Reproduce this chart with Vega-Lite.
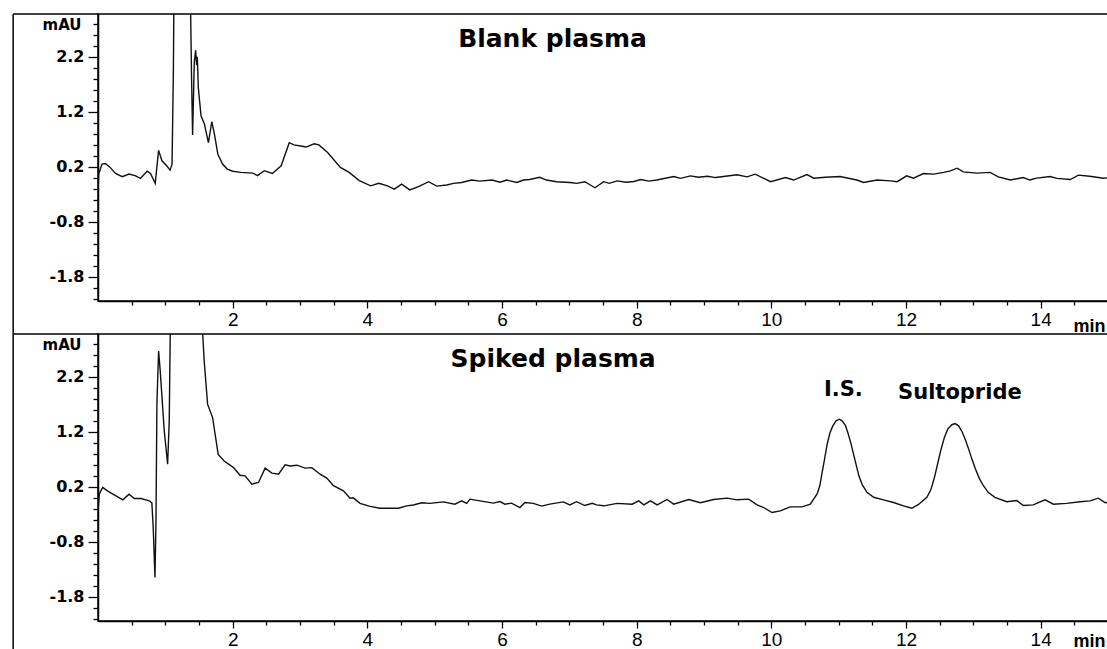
{
  "$schema": "https://vega.github.io/schema/vega-lite/v6.json",
  "padding": {"left": 11, "top": 12, "right": 0, "bottom": 0},
  "autosize": {"type": "pad"},
  "background": "white",
  "spacing": 33,
  "bounds": "flush",
  "config": {
    "view": {"stroke": "black", "strokeWidth": 1.5},
    "axis": {"grid": false, "domainColor": "black", "domainWidth": 1.5, "tickColor": "black", "tickWidth": 1.3, "labelColor": "black", "titleColor": "black", "labelOverlap": false, "labelFlush": false, "labelBound": false, "tickCount": 200}
  },
  "datasets": {
    "blank": [
      {"t":0,"v":-0.3},{"t":0.01,"v":0.07},{"t":0.06,"v":0.25},{"t":0.11,"v":0.26},{"t":0.18,"v":0.19},{"t":0.26,"v":0.08},{"t":0.36,"v":0.02},{"t":0.46,"v":0.07},{"t":0.55,"v":0.04},{"t":0.63,"v":-0.01},{"t":0.73,"v":0.12},{"t":0.78,"v":0.08},{"t":0.85,"v":-0.1},{"t":0.9,"v":0.5},{"t":0.95,"v":0.31},{"t":1.02,"v":0.22},{"t":1.07,"v":0.14},{"t":1.1,"v":0.25},{"t":1.12,"v":2.0},{"t":1.135,"v":4.5},{"t":1.355,"v":4.5},{"t":1.37,"v":3.5},{"t":1.39,"v":1.8},{"t":1.405,"v":0.78},{"t":1.43,"v":2.1},{"t":1.45,"v":2.32},{"t":1.465,"v":2.05},{"t":1.475,"v":2.2},{"t":1.49,"v":1.64},{"t":1.53,"v":1.13},{"t":1.58,"v":0.98},{"t":1.64,"v":0.64},{"t":1.69,"v":1.02},{"t":1.73,"v":0.79},{"t":1.78,"v":0.43},{"t":1.85,"v":0.25},{"t":1.92,"v":0.16},{"t":2.0,"v":0.12},{"t":2.12,"v":0.1},{"t":2.3,"v":0.085},{"t":2.37,"v":0.04},{"t":2.47,"v":0.13},{"t":2.59,"v":0.08},{"t":2.72,"v":0.22},{"t":2.84,"v":0.64},{"t":2.91,"v":0.6},{"t":3.01,"v":0.58},{"t":3.09,"v":0.56},{"t":3.21,"v":0.62},{"t":3.28,"v":0.6},{"t":3.41,"v":0.46},{"t":3.6,"v":0.19},{"t":3.73,"v":0.1},{"t":3.88,"v":-0.05},{"t":4.05,"v":-0.145},{"t":4.17,"v":-0.1},{"t":4.3,"v":-0.145},{"t":4.4,"v":-0.205},{"t":4.51,"v":-0.115},{"t":4.63,"v":-0.22},{"t":4.76,"v":-0.16},{"t":4.91,"v":-0.07},{"t":5.03,"v":-0.15},{"t":5.18,"v":-0.13},{"t":5.28,"v":-0.1},{"t":5.4,"v":-0.085},{"t":5.55,"v":-0.04},{"t":5.67,"v":-0.06},{"t":5.85,"v":-0.04},{"t":5.97,"v":-0.08},{"t":6.07,"v":-0.04},{"t":6.22,"v":-0.085},{"t":6.32,"v":-0.04},{"t":6.41,"v":-0.03},{"t":6.56,"v":0.01},{"t":6.66,"v":-0.04},{"t":6.81,"v":-0.07},{"t":7.01,"v":-0.085},{"t":7.11,"v":-0.1},{"t":7.23,"v":-0.07},{"t":7.38,"v":-0.18},{"t":7.51,"v":-0.07},{"t":7.59,"v":-0.1},{"t":7.71,"v":-0.055},{"t":7.84,"v":-0.08},{"t":7.96,"v":-0.067},{"t":8.06,"v":-0.03},{"t":8.18,"v":-0.06},{"t":8.3,"v":-0.04},{"t":8.55,"v":0.024},{"t":8.65,"v":-0.01},{"t":8.8,"v":0.036},{"t":8.92,"v":0.01},{"t":9.05,"v":0.03},{"t":9.17,"v":0.005},{"t":9.29,"v":0.024},{"t":9.49,"v":0.055},{"t":9.64,"v":0.018},{"t":9.76,"v":0.067},{"t":9.99,"v":-0.07},{"t":10.21,"v":0.006},{"t":10.33,"v":-0.04},{"t":10.53,"v":0.06},{"t":10.63,"v":-0.006},{"t":10.8,"v":0.01},{"t":11.02,"v":0.024},{"t":11.27,"v":-0.04},{"t":11.37,"v":-0.085},{"t":11.57,"v":-0.04},{"t":11.77,"v":-0.055},{"t":11.87,"v":-0.07},{"t":12.01,"v":0.036},{"t":12.11,"v":-0.006},{"t":12.26,"v":0.079},{"t":12.41,"v":0.067},{"t":12.56,"v":0.1},{"t":12.66,"v":0.127},{"t":12.76,"v":0.176},{"t":12.85,"v":0.109},{"t":13.05,"v":0.085},{"t":13.25,"v":0.1},{"t":13.37,"v":0.018},{"t":13.55,"v":-0.04},{"t":13.74,"v":0.006},{"t":13.84,"v":-0.04},{"t":13.94,"v":-0.006},{"t":14.14,"v":0.024},{"t":14.24,"v":-0.01},{"t":14.44,"v":-0.03},{"t":14.56,"v":0.05},{"t":14.73,"v":0.03},{"t":14.93,"v":-0.006},{"t":15,"v":0.0}
    ],
    "spiked": [
      {"t":0,"v":-0.24},{"t":0.02,"v":0.07},{"t":0.07,"v":0.19},{"t":0.14,"v":0.127},{"t":0.24,"v":0.055},{"t":0.37,"v":-0.036},{"t":0.46,"v":0.067},{"t":0.54,"v":-0.012},{"t":0.64,"v":-0.012},{"t":0.76,"v":-0.055},{"t":0.8,"v":-0.09},{"t":0.82,"v":-0.54},{"t":0.846,"v":-1.45},{"t":0.861,"v":-0.42},{"t":0.875,"v":1.71},{"t":0.9,"v":2.67},{"t":0.924,"v":2.31},{"t":0.984,"v":1.22},{"t":1.034,"v":0.61},{"t":1.058,"v":1.4},{"t":1.073,"v":3.0},{"t":1.085,"v":4.5},{"t":1.52,"v":4.5},{"t":1.545,"v":3.2},{"t":1.577,"v":2.49},{"t":1.628,"v":1.7},{"t":1.702,"v":1.46},{"t":1.785,"v":0.79},{"t":1.874,"v":0.67},{"t":2.013,"v":0.55},{"t":2.11,"v":0.41},{"t":2.185,"v":0.4},{"t":2.285,"v":0.25},{"t":2.384,"v":0.28},{"t":2.482,"v":0.54},{"t":2.582,"v":0.45},{"t":2.681,"v":0.43},{"t":2.779,"v":0.6},{"t":2.853,"v":0.58},{"t":2.953,"v":0.594},{"t":3.076,"v":0.54},{"t":3.175,"v":0.55},{"t":3.298,"v":0.43},{"t":3.398,"v":0.36},{"t":3.497,"v":0.22},{"t":3.645,"v":0.127},{"t":3.743,"v":-0.006},{"t":3.79,"v":0.0},{"t":3.892,"v":-0.1},{"t":4.04,"v":-0.155},{"t":4.188,"v":-0.19},{"t":4.337,"v":-0.19},{"t":4.461,"v":-0.19},{"t":4.585,"v":-0.145},{"t":4.684,"v":-0.13},{"t":4.807,"v":-0.09},{"t":4.93,"v":-0.1},{"t":5.129,"v":-0.073},{"t":5.3,"v":-0.115},{"t":5.4,"v":-0.055},{"t":5.475,"v":-0.1},{"t":5.524,"v":-0.024},{"t":5.672,"v":-0.055},{"t":5.871,"v":-0.096},{"t":5.97,"v":-0.067},{"t":6.043,"v":-0.115},{"t":6.142,"v":-0.096},{"t":6.266,"v":-0.176},{"t":6.34,"v":-0.085},{"t":6.465,"v":-0.1},{"t":6.588,"v":-0.15},{"t":6.71,"v":-0.115},{"t":6.91,"v":-0.073},{"t":7.008,"v":-0.13},{"t":7.107,"v":-0.07},{"t":7.23,"v":-0.14},{"t":7.34,"v":-0.1},{"t":7.404,"v":-0.127},{"t":7.512,"v":-0.145},{"t":7.71,"v":-0.1},{"t":7.933,"v":-0.115},{"t":8.031,"v":-0.055},{"t":8.106,"v":-0.127},{"t":8.205,"v":-0.055},{"t":8.304,"v":-0.127},{"t":8.452,"v":-0.03},{"t":8.55,"v":-0.115},{"t":8.773,"v":-0.03},{"t":8.947,"v":-0.09},{"t":9.144,"v":-0.03},{"t":9.343,"v":-0.006},{"t":9.49,"v":-0.036},{"t":9.663,"v":-0.024},{"t":9.788,"v":-0.127},{"t":9.886,"v":-0.176},{"t":10.01,"v":-0.267},{"t":10.134,"v":-0.236},{"t":10.28,"v":-0.164},{"t":10.455,"v":-0.164},{"t":10.579,"v":-0.115},{"t":10.68,"v":0.07},{"t":10.72,"v":0.22},{"t":10.75,"v":0.43},{"t":10.79,"v":0.7},{"t":10.83,"v":0.98},{"t":10.87,"v":1.18},{"t":10.91,"v":1.3},{"t":10.96,"v":1.4},{"t":11.01,"v":1.43},{"t":11.05,"v":1.4},{"t":11.1,"v":1.32},{"t":11.14,"v":1.17},{"t":11.18,"v":1.0},{"t":11.22,"v":0.8},{"t":11.26,"v":0.6},{"t":11.3,"v":0.4},{"t":11.35,"v":0.24},{"t":11.42,"v":0.1},{"t":11.52,"v":0.01},{"t":11.666,"v":-0.036},{"t":11.815,"v":-0.085},{"t":11.963,"v":-0.145},{"t":12.087,"v":-0.19},{"t":12.186,"v":-0.12},{"t":12.31,"v":0.01},{"t":12.37,"v":0.15},{"t":12.42,"v":0.36},{"t":12.47,"v":0.62},{"t":12.52,"v":0.88},{"t":12.57,"v":1.1},{"t":12.62,"v":1.25},{"t":12.68,"v":1.33},{"t":12.73,"v":1.35},{"t":12.78,"v":1.31},{"t":12.83,"v":1.21},{"t":12.88,"v":1.06},{"t":12.93,"v":0.89},{"t":12.98,"v":0.7},{"t":13.03,"v":0.53},{"t":13.09,"v":0.35},{"t":13.15,"v":0.22},{"t":13.22,"v":0.1},{"t":13.32,"v":0.01},{"t":13.497,"v":-0.07},{"t":13.645,"v":-0.05},{"t":13.743,"v":-0.14},{"t":13.89,"v":-0.127},{"t":14.065,"v":-0.036},{"t":14.19,"v":-0.115},{"t":14.386,"v":-0.1},{"t":14.585,"v":-0.07},{"t":14.733,"v":-0.055},{"t":14.856,"v":-0.006},{"t":14.955,"v":-0.085},{"t":15,"v":-0.09}
    ]
  },
  "vconcat": [
    {
      "width": 1010,
      "height": 287,
      "layer": [
        {
          "data": {"name": "blank"},
          "mark": {"type": "line", "clip": true, "color": "#111111", "strokeWidth": 1.4},
          "encoding": {
            "x": {"field": "t", "type": "quantitative", "scale": {"domain": [0, 15], "nice": false, "zero": false},
              "axis": {"title": "min", "tickCount": 200, "values": [0.5,1,1.5,2,2.5,3,3.5,4,4.5,5,5.5,6,6.5,7,7.5,8,8.5,9,9.5,10,10.5,11,11.5,12,12.5,13,13.5,14,14.5],
                "labelExpr": "datum.value % 2 === 0 ? format(datum.value, 'd') : ''",
                "tickSize": {"condition": {"test": "datum.value % 2 === 0", "value": 7}, "value": 4},
                "labelPadding": 2, "labelFont": "Liberation Sans", "labelFontSize": 19, "labelFontWeight": "normal",
                "titleX": 975, "titleY": 30, "titleAlign": "left", "titleBaseline": "alphabetic", "titleFont": "Liberation Sans", "titleFontWeight": "bold", "titleFontSize": 18}},
            "y": {"field": "v", "type": "quantitative", "scale": {"domain": [-2.24, 2.98], "nice": false, "zero": false},
              "axis": {"title": "mAU", "tickCount": 200, "values": [-2.2,-2,-1.8,-1.6,-1.4,-1.2,-1,-0.8,-0.6,-0.4,-0.2,0,0.2,0.4,0.6,0.8,1,1.2,1.4,1.6,1.8,2,2.2,2.4,2.6,2.8],
                "labelExpr": "abs(datum.value + 0.8 - round(datum.value + 0.8)) < 0.01 ? (datum.value < 0 ? '-' : '') + format(abs(datum.value), '.1f') : ''",
                "tickSize": {"condition": {"test": "abs(datum.value + 0.8 - round(datum.value + 0.8)) < 0.01", "value": 10}, "value": 5},
                "labelPadding": 4, "labelFont": "DejaVu Sans", "labelFontSize": 16, "labelFontWeight": "bold",
                "titleAngle": 0, "titleX": -17, "titleY": 10, "titleAlign": "right", "titleBaseline": "middle", "titleFont": "DejaVu Sans", "titleFontWeight": "bold", "titleFontSize": 15}}
          }
        },
        {
          "data": {"values": [{"label": "Blank plasma", "t": 6.75, "v": 2.53}]},
          "mark": {"type": "text", "font": "DejaVu Sans", "fontWeight": "bold", "fontSize": 25, "color": "black", "align": "center", "baseline": "middle"},
          "encoding": {"x": {"field": "t", "type": "quantitative"}, "y": {"field": "v", "type": "quantitative"}, "text": {"field": "label"}}
        },
        {
          "data": {"values": [{}]},
          "mark": {"type": "rule", "color": "black", "strokeWidth": 1.5},
          "encoding": {"x": {"datum": -1.26}, "y": {"datum": 2.98}, "y2": {"datum": -2.84}}
        },
        {
          "data": {"values": [{}]},
          "mark": {"type": "rule", "color": "black", "strokeWidth": 1.5},
          "encoding": {"x": {"datum": -1.26}, "x2": {"datum": 0}, "y": {"datum": 2.98}}
        }
      ]
    },
    {
      "width": 1010,
      "height": 287,
      "layer": [
        {
          "data": {"name": "spiked"},
          "mark": {"type": "line", "clip": true, "color": "#111111", "strokeWidth": 1.4},
          "encoding": {
            "x": {"field": "t", "type": "quantitative", "scale": {"domain": [0, 15], "nice": false, "zero": false},
              "axis": {"title": "min", "tickCount": 200, "values": [0.5,1,1.5,2,2.5,3,3.5,4,4.5,5,5.5,6,6.5,7,7.5,8,8.5,9,9.5,10,10.5,11,11.5,12,12.5,13,13.5,14,14.5],
                "labelExpr": "datum.value % 2 === 0 ? format(datum.value, 'd') : ''",
                "tickSize": {"condition": {"test": "datum.value % 2 === 0", "value": 7}, "value": 4},
                "labelPadding": 2, "labelFont": "Liberation Sans", "labelFontSize": 19, "labelFontWeight": "normal",
                "titleX": 975, "titleY": 25, "titleAlign": "left", "titleBaseline": "alphabetic", "titleFont": "Liberation Sans", "titleFontWeight": "bold", "titleFontSize": 18}},
            "y": {"field": "v", "type": "quantitative", "scale": {"domain": [-2.24, 2.98], "nice": false, "zero": false},
              "axis": {"title": "mAU", "tickCount": 200, "values": [-2.2,-2,-1.8,-1.6,-1.4,-1.2,-1,-0.8,-0.6,-0.4,-0.2,0,0.2,0.4,0.6,0.8,1,1.2,1.4,1.6,1.8,2,2.2,2.4,2.6,2.8],
                "labelExpr": "abs(datum.value + 0.8 - round(datum.value + 0.8)) < 0.01 ? (datum.value < 0 ? '-' : '') + format(abs(datum.value), '.1f') : ''",
                "tickSize": {"condition": {"test": "abs(datum.value + 0.8 - round(datum.value + 0.8)) < 0.01", "value": 10}, "value": 5},
                "labelPadding": 4, "labelFont": "DejaVu Sans", "labelFontSize": 16, "labelFontWeight": "bold",
                "titleAngle": 0, "titleX": -17, "titleY": 10, "titleAlign": "right", "titleBaseline": "middle", "titleFont": "DejaVu Sans", "titleFontWeight": "bold", "titleFontSize": 15}}
          }
        },
        {
          "data": {"values": [{"label": "Spiked plasma", "t": 6.76, "v": 2.52}]},
          "mark": {"type": "text", "font": "DejaVu Sans", "fontWeight": "bold", "fontSize": 25, "color": "black", "align": "center", "baseline": "middle"},
          "encoding": {"x": {"field": "t", "type": "quantitative"}, "y": {"field": "v", "type": "quantitative"}, "text": {"field": "label"}}
        },
        {
          "data": {"values": [{"label": "I.S.", "t": 11.07, "v": 1.97}, {"label": "Sultopride", "t": 12.8, "v": 1.91}]},
          "mark": {"type": "text", "font": "DejaVu Sans", "fontWeight": "bold", "fontSize": 21, "color": "black", "align": "center", "baseline": "middle"},
          "encoding": {"x": {"field": "t", "type": "quantitative"}, "y": {"field": "v", "type": "quantitative"}, "text": {"field": "label"}}
        },
        {
          "data": {"values": [{}]},
          "mark": {"type": "rule", "color": "black", "strokeWidth": 1.5},
          "encoding": {"x": {"datum": -1.26}, "y": {"datum": 2.98}, "y2": {"datum": -2.77}}
        },
        {
          "data": {"values": [{}]},
          "mark": {"type": "rule", "color": "black", "strokeWidth": 1.5},
          "encoding": {"x": {"datum": -1.26}, "x2": {"datum": 0}, "y": {"datum": 2.98}}
        }
      ]
    }
  ]
}
